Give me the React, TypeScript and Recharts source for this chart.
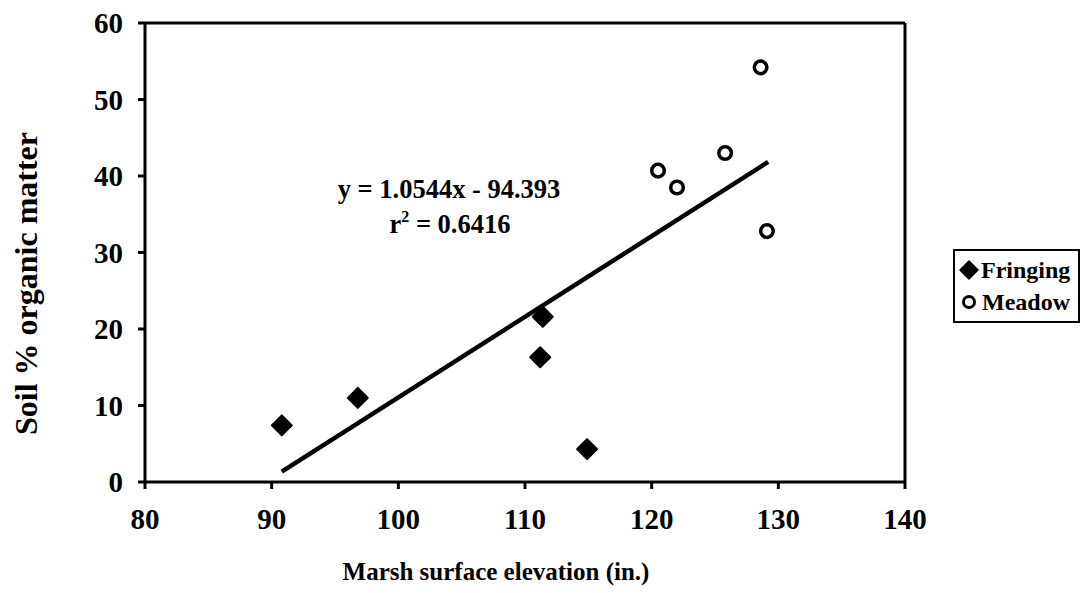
import React from 'react';
import { ScatterChart, Scatter, XAxis, YAxis, ReferenceLine, Legend, Customized, Label } from 'recharts';

const fringingX = [90.8, 96.8, 111.4, 111.2, 114.9];
const fringingY = [7.4, 11.0, 21.6, 16.3, 4.3];
const meadowX = [120.5, 122.0, 125.8, 128.6, 129.1];
const meadowY = [40.7, 38.5, 43.0, 54.2, 32.8];
const trendX = [90.8, 129.2];
const trendY = [1.35, 41.84];
const xTicks = [80, 90, 100, 110, 120, 130, 140];
const yTicks = [0, 10, 20, 30, 40, 50, 60];

const fringing = fringingX.map((x, i) => ({ x, y: fringingY[i] }));
const meadow = meadowX.map((x, i) => ({ x, y: meadowY[i] }));
const trend = trendX.map((x, i) => ({ x, y: trendY[i] }));

const FONT = '"Liberation Serif", "Times New Roman", serif';

const Diamond = (props: any) => {
  const { cx, cy } = props;
  const r = 10;
  return (
    <path
      d={`M${cx},${cy - r} L${cx + r},${cy} L${cx},${cy + r} L${cx - r},${cy} Z`}
      fill="#000"
      stroke="#000"
      strokeWidth={2}
      strokeLinejoin="round"
    />
  );
};

const Ring = (props: any) => {
  const { cx, cy } = props;
  return <circle cx={cx} cy={cy} r={6.3} fill="#fff" stroke="#000" strokeWidth={3.5} />;
};

const NoShape = () => <g />;

const Annotation = () => (
  <g fontFamily={FONT} fontWeight="bold" fontSize={26.5} fill="#000">
    <text x={449} y={198} textAnchor="middle">y = 1.0544x - 94.393</text>
    <text x={450} y={233} textAnchor="middle">
      r<tspan fontSize={16} dy={-11}>2</tspan>
      <tspan dy={11}> = 0.6416</tspan>
    </text>
  </g>
);

const LegendBox = () => (
  <div
    style={{
      border: '2px solid #000',
      background: '#fff',
      padding: '3px 2px 3px 4px',
      fontFamily: FONT,
      fontWeight: 'bold',
      fontSize: 24,
      lineHeight: '32px',
      color: '#000',
      width: 127,
      boxSizing: 'border-box',
    }}
  >
    <div style={{ display: 'flex', alignItems: 'center' }}>
      <svg width={20} height={20} style={{ marginRight: 2 }}>
        <path d="M10,1 L19,10 L10,19 L1,10 Z" fill="#000" stroke="#000" strokeLinejoin="round" strokeWidth={1.5} />
      </svg>
      Fringing
    </div>
    <div style={{ display: 'flex', alignItems: 'center' }}>
      <svg width={20} height={20} style={{ marginRight: 3 }}>
        <circle cx={10} cy={10} r={5.5} fill="#fff" stroke="#000" strokeWidth={3} />
      </svg>
      Meadow
    </div>
  </div>
);

const YTitle = (props: any) => {
  const vb = props.viewBox || { x: 0, y: 23, width: 145, height: 459 };
  const cx = vb.x + 26;
  const cy = vb.y + vb.height / 2 + 31;
  return (
    <text
      x={cx}
      y={cy}
      transform={`rotate(-90, ${cx}, ${cy})`}
      textAnchor="middle"
      dominantBaseline="central"
      fontFamily={FONT}
      fontWeight="bold"
      fontSize={32}
      fill="#000"
    >
      Soil % organic matter
    </text>
  );
};

const XTitle = (props: any) => {
  const vb = props.viewBox || { x: 145, y: 482, width: 760, height: 111 };
  const cx = vb.x + vb.width / 2 - 29;
  return (
    <text
      x={cx}
      y={vb.y + 98}
      textAnchor="middle"
      fontFamily={FONT}
      fontWeight="bold"
      fontSize={25}
      fill="#000"
    >
      Marsh surface elevation (in.)
    </text>
  );
};

export default function App() {
  return (
    <div style={{ position: 'absolute', left: 0, top: 0, background: '#fff' }}>
      <ScatterChart width={1085} height={593} margin={{ top: 23, right: 180, bottom: 0, left: 0 }}>
        <XAxis
          type="number"
          dataKey="x"
          domain={[80, 140]}
          ticks={xTicks}
          allowDataOverflow
          height={111}
          stroke="#000"
          strokeWidth={3}
          tickSize={7}
          tickMargin={19}
          tick={{ fill: '#000', fontFamily: FONT, fontWeight: 'bold', fontSize: 29 }}
        >
          <Label content={<XTitle />} />
        </XAxis>
        <YAxis
          type="number"
          dataKey="y"
          domain={[0, 60]}
          ticks={yTicks}
          allowDataOverflow
          width={145}
          stroke="#000"
          strokeWidth={3}
          tickSize={7}
          tickMargin={15}
          tick={{ fill: '#000', fontFamily: FONT, fontWeight: 'bold', fontSize: 29 }}
        >
          <Label content={<YTitle />} />
        </YAxis>
        <ReferenceLine y={60} stroke="#000" strokeWidth={3} />
        <ReferenceLine x={140} stroke="#000" strokeWidth={3} />
        <Scatter
          name="trend"
          data={trend}
          line={{ stroke: '#000', strokeWidth: 4.5 }}
          lineType="joint"
          shape={NoShape}
          legendType="none"
          isAnimationActive={false}
        />
        <Scatter name="Fringing" data={fringing} shape={Diamond} isAnimationActive={false} />
        <Scatter name="Meadow" data={meadow} shape={Ring} isAnimationActive={false} />
        <Customized component={Annotation} />
        <Legend
          content={<LegendBox />}
          layout="horizontal"
          verticalAlign="middle"
          align="center"
          wrapperStyle={{ left: 953, top: 249, width: 127 }}
        />
      </ScatterChart>
    </div>
  );
}
